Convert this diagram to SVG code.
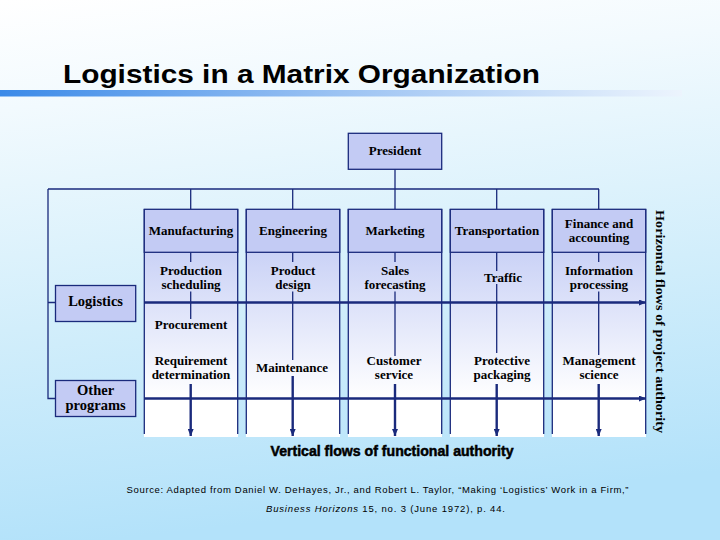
<svg xmlns="http://www.w3.org/2000/svg" width="720" height="540" viewBox="0 0 720 540">
<defs>
<linearGradient id="bg" x1="0" y1="0" x2="0.15" y2="1">
<stop offset="0" stop-color="#ffffff"/>
<stop offset="0.2" stop-color="#f2fafe"/>
<stop offset="0.6" stop-color="#d2eefb"/>
<stop offset="1" stop-color="#b3e2fa"/>
</linearGradient>
<linearGradient id="bar" x1="0" y1="0" x2="1" y2="0">
<stop offset="0" stop-color="#3b8ae8"/>
<stop offset="0.5" stop-color="#9cc3f3"/>
<stop offset="1" stop-color="#ecf4fd"/>
</linearGradient>
<linearGradient id="col" gradientUnits="userSpaceOnUse" x1="0" y1="252" x2="0" y2="436">
<stop offset="0" stop-color="#cad2f6"/>
<stop offset="0.8" stop-color="#ffffff"/>
<stop offset="1" stop-color="#ffffff"/>
</linearGradient>
<marker id="ah" markerUnits="userSpaceOnUse" markerWidth="8" markerHeight="6" refX="7" refY="3" orient="auto">
<path d="M0,0 L7,3 L0,6 z" fill="#1a2a7c"/>
</marker>
</defs>
<style>
.box{fill:#c3cbf4;stroke:#1a2a7c;stroke-width:1.3}
.body{fill:url(#col)}
.edge{stroke:#1a2a7c;stroke-width:1.3;fill:none}
.thin{stroke:#1a2a7c;stroke-width:1.3;fill:none}
.arr{stroke:#1a2a7c;stroke-width:2.4;fill:none;marker-end:url(#ah)}
.t{font-family:"Liberation Serif","Times New Roman",serif;font-weight:bold;font-size:13px;fill:#000;text-anchor:middle}
.tl{font-family:"Liberation Serif","Times New Roman",serif;font-weight:bold;font-size:14.5px;fill:#000;text-anchor:middle}
.src{font-family:"Liberation Sans",Arial,sans-serif;font-size:9.5px;fill:#000}
</style>
<rect x="0" y="0" width="720" height="540" fill="url(#bg)"/>
<rect x="0" y="90" width="682" height="6.5" fill="url(#bar)"/>
<text x="63" y="83" font-family="Liberation Sans,Arial,sans-serif" font-weight="bold" font-size="26" textLength="477" lengthAdjust="spacingAndGlyphs" fill="#000">Logistics in a Matrix Organization</text>

<g id="columns">
<rect class="body" x="144" y="252" width="94" height="185"/>
<rect class="body" x="246" y="252" width="94" height="185"/>
<rect class="body" x="348" y="252" width="94" height="185"/>
<rect class="body" x="450" y="252" width="94" height="185"/>
<rect class="body" x="552" y="252" width="94" height="185"/>
<path class="edge" d="M144.3,209 V434 M237.7,209 V434 M246.3,209 V434 M339.7,209 V434 M348.3,209 V434 M441.7,209 V434 M450.3,209 V434 M543.7,209 V434 M552.3,209 V434 M645.7,209 V434"/>
</g>

<g id="connectors">
<path class="thin" d="M395,169 V189 M48,189 H599 M190.7,189 V209 M292.7,189 V209 M395,189 V209 M496.7,189 V209 M598.7,189 V209"/>
<path class="thin" d="M48,189 V398.5 H55.5 M48,302.5 H55.5"/>
<path class="thin" d="M190.7,252 V262 M190.7,291.5 V319 M292.7,252 V262 M292.7,291.5 V360 M395,252 V262 M395,291.5 V356 M496.7,252 V271 M496.7,284 V353 M598.7,252 V262 M598.7,291.5 V355"/>
<line class="arr" x1="144" y1="302.5" x2="646" y2="302.5"/>
<line class="arr" x1="144" y1="398.5" x2="646" y2="398.5"/>
<line class="arr" x1="190.7" y1="384" x2="190.7" y2="436"/>
<line class="arr" x1="292.7" y1="376" x2="292.7" y2="436"/>
<line class="arr" x1="395" y1="384" x2="395" y2="436"/>
<line class="arr" x1="496.7" y1="384" x2="496.7" y2="436"/>
<line class="arr" x1="598.7" y1="384" x2="598.7" y2="436"/>
</g>

<g id="president"><rect class="box" x="348.3" y="133.3" width="93.4" height="36"/><text class="t" x="395" y="154.5" font-size="14.5">President</text></g>
<g id="logistics"><rect class="box" x="55.5" y="285.5" width="80.2" height="36"/><text class="tl" x="95.6" y="305.7">Logistics</text></g>
<g id="other-programs"><rect class="box" x="55.5" y="380.5" width="80.2" height="36"/><text class="tl" x="95.6" y="394.5">Other</text><text class="tl" x="95.6" y="410">programs</text></g>

<g id="manufacturing"><rect class="box" x="144.3" y="209.3" width="93.4" height="43"/><text class="t" x="191" y="235" font-size="13.8">Manufacturing</text></g>
<g id="engineering"><rect class="box" x="246.3" y="209.3" width="93.4" height="43"/><text class="t" x="293" y="235" font-size="13.8">Engineering</text></g>
<g id="marketing"><rect class="box" x="348.3" y="209.3" width="93.4" height="43"/><text class="t" x="395" y="235" font-size="13.8">Marketing</text></g>
<g id="transportation"><rect class="box" x="450.3" y="209.3" width="93.4" height="43"/><text class="t" x="497" y="235" font-size="13.8">Transportation</text></g>
<g id="finance"><rect class="box" x="552.3" y="209.3" width="93.4" height="43"/><text class="t" x="599" y="227.5">Finance and</text><text class="t" x="599" y="241.5">accounting</text></g>

<g id="production-scheduling"><text class="t" x="191" y="274.5">Production</text><text class="t" x="191" y="288.5">scheduling</text></g>
<g id="product-design"><text class="t" x="293" y="274.5">Product</text><text class="t" x="293" y="288.5">design</text></g>
<g id="sales-forecasting"><text class="t" x="395" y="274.5">Sales</text><text class="t" x="395" y="288.5">forecasting</text></g>
<g id="traffic"><text class="t" x="503" y="281.7">Traffic</text></g>
<g id="information-processing"><text class="t" x="599" y="274.5">Information</text><text class="t" x="599" y="288.5">processing</text></g>
<g id="procurement"><text class="t" x="191" y="329.3">Procurement</text></g>
<g id="requirement-determination"><text class="t" x="191" y="364.5">Requirement</text><text class="t" x="191" y="378.5">determination</text></g>
<g id="maintenance"><text class="t" x="292" y="371.7">Maintenance</text></g>
<g id="customer-service"><text class="t" x="394" y="364.5">Customer</text><text class="t" x="394" y="378.5">service</text></g>
<g id="protective-packaging"><text class="t" x="502" y="364.5">Protective</text><text class="t" x="502" y="378.5">packaging</text></g>
<g id="management-science"><text class="t" x="599" y="364.5">Management</text><text class="t" x="599" y="378.5">science</text></g>

<text class="t" font-size="14" transform="translate(655.5,321.5) rotate(90)" textLength="223" lengthAdjust="spacingAndGlyphs">Horizontal flows of project authority</text>
<text x="392" y="455.5" font-family="Liberation Sans,Arial,sans-serif" font-weight="bold" font-size="14" text-anchor="middle" fill="#000" stroke="#000" stroke-width="0.5" textLength="243" lengthAdjust="spacingAndGlyphs">Vertical flows of functional authority</text>
<text class="src" x="126.5" y="492.5" textLength="502" lengthAdjust="spacing">Source: Adapted from Daniel W. DeHayes, Jr., and Robert L. Taylor, “Making ‘Logistics’ Work in a Firm,”</text>
<text class="src" x="266" y="512" textLength="239" lengthAdjust="spacing"><tspan font-style="italic">Business Horizons</tspan> 15, no. 3 (June 1972), p. 44.</text>
</svg>
